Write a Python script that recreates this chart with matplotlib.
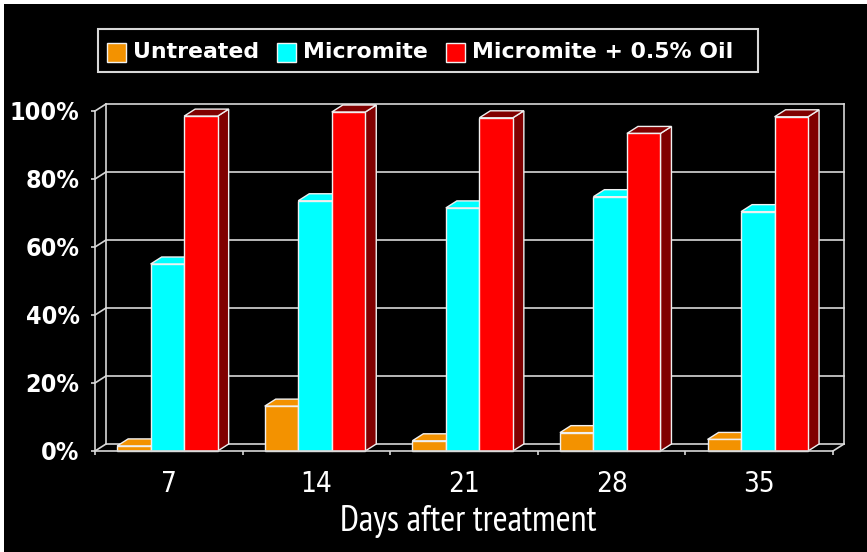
import matplotlib
matplotlib.use("Agg")
import matplotlib.pyplot as plt
from matplotlib.patches import Polygon, Rectangle
from matplotlib.ticker import FixedLocator, FuncFormatter

# --- data ---
days = ["7", "14", "21", "28", "35"]
series = ["Untreated", "Micromite", "Micromite + 0.5% Oil"]
untreated = [1.5, 13.2, 3.0, 5.4, 3.4]
micromite = [55.0, 73.6, 71.5, 74.8, 70.4]
oil = [98.5, 99.7, 98.0, 93.4, 98.3]

front_colors = ["#F39200", "#00FFFF", "#FF0000"]
top_colors = ["#F39200", "#00FFFF", "#800000"]
side_colors = ["#B06800", "#00A0A0", "#800000"]
edge = "#F0F0F0"
grid_col = "#D8D8D8"

W, H = 867, 552
fig = plt.figure(figsize=(W / 100, H / 100), dpi=100, facecolor="black")

def fx(x):
    return x / W

def fy(y):
    return 1 - y / H

ax = fig.add_axes([fx(95), fy(451), (833 - 95) / W, (451 - 111) / H])
ax.set_facecolor("black")
ax.set_xlim(0, len(days))
ax.set_ylim(0, 100)

# depth of the 3D box in data units
DX = 11 / 147.6
DY = 7 / 3.4

# back wall, floor and side gridlines
n = len(days)
for v in range(0, 101, 20):
    ax.plot([DX, n + DX], [v + DY, v + DY], color=grid_col, lw=1.2, clip_on=False, zorder=1)
    ax.plot([0, DX], [v, v + DY], color=grid_col, lw=1.2, clip_on=False, zorder=1)
ax.plot([DX, DX], [DY, 100 + DY], color=grid_col, lw=1.2, clip_on=False, zorder=1)
ax.plot([n + DX, n + DX], [DY, 100 + DY], color=grid_col, lw=1.2, clip_on=False, zorder=1)
ax.plot([n, n + DX], [0, DY], color=grid_col, lw=1.2, clip_on=False, zorder=1)

# bars
bw = 0.227
start = 0.15
z = 3
for i in range(n):
    for j, vals in enumerate([untreated, micromite, oil]):
        v = vals[i]
        x0 = i + start + j * bw
        x1 = x0 + bw
        side = Polygon([(x1, 0), (x1 + DX, DY), (x1 + DX, v + DY), (x1, v)], closed=True,
                       facecolor=side_colors[j], edgecolor=edge, lw=1, clip_on=False, zorder=z)
        top = Polygon([(x0, v), (x1, v), (x1 + DX, v + DY), (x0 + DX, v + DY)], closed=True,
                      facecolor=top_colors[j], edgecolor=edge, lw=1, clip_on=False, zorder=z)
        front = Rectangle((x0, 0), bw, v, facecolor=front_colors[j], edgecolor=edge, lw=1,
                          clip_on=False, zorder=z)
        ax.add_patch(side)
        ax.add_patch(top)
        ax.add_patch(front)
        z += 1

# axes styling
for s in ["top", "right"]:
    ax.spines[s].set_visible(False)
for s in ["left", "bottom"]:
    ax.spines[s].set_color(grid_col)
    ax.spines[s].set_linewidth(1.2)
    ax.spines[s].set_zorder(50)

ax.yaxis.set_major_locator(FixedLocator([0, 20, 40, 60, 80, 100]))
ax.yaxis.set_major_formatter(FuncFormatter(lambda v, p: f"{v:.0f}%"))
ax.tick_params(axis="y", colors=grid_col, length=3, width=1.2, pad=8)
for lab in ax.get_yticklabels():
    lab.set_fontproperties({"family": "DejaVu Sans", "stretch": "condensed", "weight": "bold", "size": 18})
    lab.set_color("white")

ax.set_xticks([i + 0.5 for i in range(n)])
ax.set_xticklabels(days)
ax.set_xticks(range(n + 1), minor=True)
ax.tick_params(axis="x", which="major", length=0, pad=14)
ax.tick_params(axis="x", which="minor", length=3, width=1.2, colors=grid_col)
for lab in ax.get_xticklabels():
    lab.set_fontproperties({"family": "DejaVu Sans", "stretch": "condensed", "size": 20})
    lab.set_color("white")

fig.text(fx(468), fy(522), "Days after treatment", ha="center", va="center",
         color="white", family="PT Sans Narrow", size=26)

# legend box drawn by hand
fig.patches.append(Rectangle((fx(98), fy(72)), (758 - 98) / W, (72 - 29) / H,
                             transform=fig.transFigure, facecolor="black",
                             edgecolor=grid_col, lw=1.5))
renderer = fig.canvas.get_renderer()
x = 107
for j, name in enumerate(series):
    fig.patches.append(Rectangle((fx(x), fy(62)), 19 / W, 19 / H, transform=fig.transFigure,
                                 facecolor=front_colors[j], edgecolor=edge, lw=1))
    t = fig.text(fx(x + 26), fy(51.5), name, ha="left", va="center", color="white",
                 family="DejaVu Sans", weight="bold", size=15.8)
    bb = t.get_window_extent(renderer)
    x = bb.x1 + 18

# white strips on the top and left edge of the picture
fig.patches.append(Rectangle((0, fy(4)), 1, 4 / H, transform=fig.transFigure,
                             facecolor="white", edgecolor="none"))
fig.patches.append(Rectangle((0, 0), fx(4), 1, transform=fig.transFigure,
                             facecolor="white", edgecolor="none"))

fig.savefig("out.png", dpi=100, facecolor="black")
